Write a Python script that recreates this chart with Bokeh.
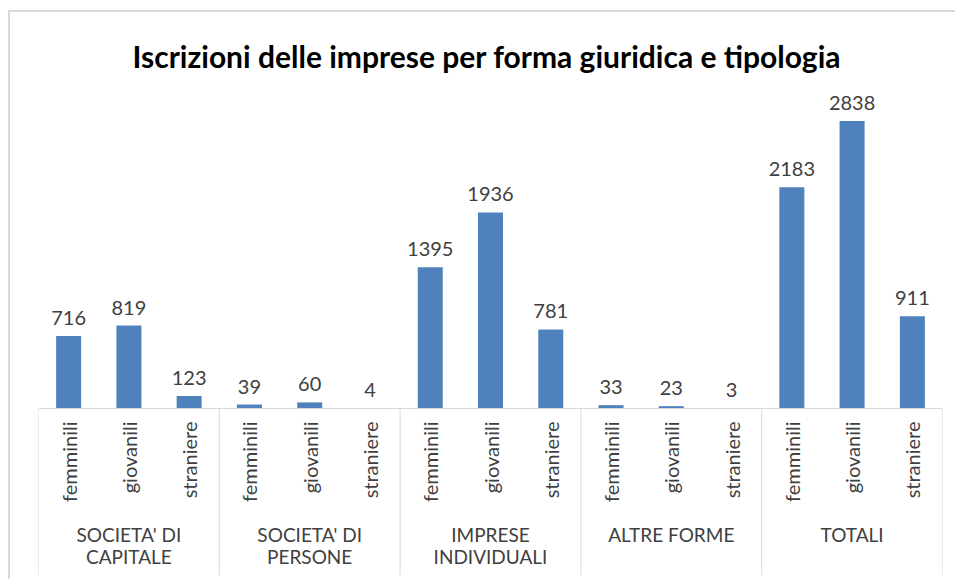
import math
from bokeh.plotting import figure
from bokeh.models import FactorRange, Range1d, ColumnDataSource
from bokeh.core.properties import value
from bokeh.embed import file_html
from bokeh.resources import INLINE

# ---- data ----
groups = ["SOCIETA' DI\nCAPITALE", "SOCIETA' DI\nPERSONE", "IMPRESE\nINDIVIDUALI", "ALTRE FORME", "TOTALI"]
types = ["femminili", "giovanili", "straniere"]
societa_capitale = [716, 819, 123]
societa_persone = [39, 60, 4]
imprese_individuali = [1395, 1936, 781]
altre_forme = [33, 23, 3]
totali = [2183, 2838, 911]
title_text = "Iscrizioni delle imprese per forma giuridica  e tipologia"

series = [societa_capitale, societa_persone, imprese_individuali, altre_forme, totali]
factors = [(g, t) for g in groups for t in types]
vals = [v for s in series for v in s]

bar_src = ColumnDataSource(dict(x=factors, top=vals, label=[str(v) for v in vals],
                                cat=[t for g in groups for t in types]))

FONT = "Lato"
TXT = "#404040"
GRID = "#d9d9d9"
Y0, Y1 = -1648.6, 3188.6

p = figure(width=947, height=569, output_backend="svg", toolbar_location=None,
           x_range=FactorRange(*factors, range_padding=0, group_padding=0, factor_padding=0),
           y_range=Range1d(Y0, Y1),
           x_axis_location=None, y_axis_location=None,
           min_border_left=28, min_border_right=15, min_border_top=73, min_border_bottom=6,
           margin=(10, 0, 0, 8),
           styles={"border-top": "2px solid #d9d9d9", "border-left": "2px solid #d9d9d9"})
p.xgrid.visible = False
p.ygrid.visible = False
p.outline_line_color = None
p.background_fill_color = "white"
p.border_fill_color = "white"

p.title.text = title_text
p.title.align = "center"
p.title.text_font = FONT
p.title.text_font_size = "30px"
p.title.text_font_style = "bold"
p.title.text_color = "#000000"
p.title.standoff = 23

# bars
p.vbar(x="x", top="top", width=0.415, source=bar_src, fill_color="#4F81BD", line_color=None)

# data labels
p.text(x="x", y="top", text="label", source=bar_src, text_font=value(FONT),
       text_font_size="20px", text_color=TXT, text_align="center",
       text_baseline="alphabetic", y_offset=-18)

# axis line and group separators (synthetic categorical coordinates)
n = len(factors)
bounds = [i * len(types) for i in range(len(groups) + 1)]
p.segment(x0=[0], y0=[0], x1=[n], y1=[0], line_color=GRID, line_width=1)
p.segment(x0=bounds, y0=[0] * len(bounds), x1=bounds, y1=[Y0] * len(bounds),
          line_color=GRID, line_width=1)

# category labels (vertical)
p.text(x="x", y=0, text="cat", source=bar_src, angle=math.pi / 2,
       text_font=value(FONT), text_font_size="20px", text_color=TXT,
       text_align="right", text_baseline="middle", y_offset=13)

# group labels
grp_src = ColumnDataSource(dict(x=[(g, types[1]) for g in groups], text=groups))
p.text(x="x", y=0, text="text", source=grp_src, text_font=value(FONT),
       text_font_size="19px", text_color=TXT, text_align="center",
       text_baseline="top", y_offset=115, text_line_height=0.95)

open("out.html", "w").write(file_html(p, INLINE))
